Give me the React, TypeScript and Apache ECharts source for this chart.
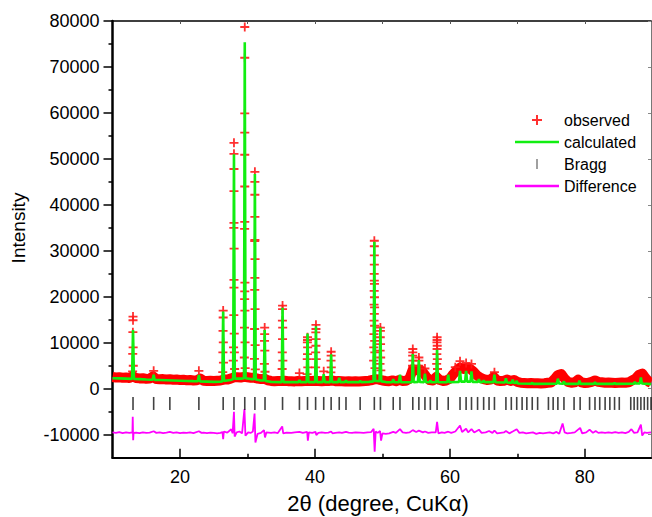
import { useEffect, useRef } from 'react';
import * as echarts from 'echarts';

// ---- data ----
const xTicks = [20, 40, 60, 80];
const xMinorTicks = [30, 50, 70];
const xTopTicks = [20, 30, 40, 50, 60, 70, 80];
const yTicks = [-10000, 0, 10000, 20000, 30000, 40000, 50000, 60000, 70000, 80000];
const yMinorTicks = [-5000, 5000, 15000, 25000, 35000, 45000, 55000, 65000, 75000];

// observed intensity between peaks (dense red band)
const observedBackground: number[][] = [
  [10, 2550], [10.5, 2450], [11, 2500], [11.5, 2400], [12, 2450], [12.5, 2350], [13, 2700], [13.5, 2350],
  [14, 2250], [14.5, 2300], [15, 2150], [15.5, 2200], [16, 2700], [16.5, 2100], [17, 2050], [17.5, 2100],
  [18, 2000], [18.5, 2050], [19, 1950], [19.5, 2000], [20, 1900], [20.5, 1950], [21, 1850], [21.5, 1900],
  [22, 1800], [22.5, 1850], [23, 2200], [23.5, 1750], [24, 1700], [24.5, 1750], [25, 1700], [25.5, 1750],
  [26, 1800], [26.5, 2000], [27, 2000], [27.5, 2200], [28, 2500], [28.5, 2500], [29, 2450], [29.5, 2600],
  [30, 2500], [30.5, 2400], [31, 2400], [31.5, 2200], [32, 2100], [32.5, 2200], [33, 1850], [33.5, 1700],
  [34, 1650], [34.5, 1700], [35, 1700], [35.5, 1750], [36, 1650], [36.5, 1650], [37, 1600], [37.5, 1700],
  [38, 1650], [38.5, 1700], [39, 1750], [39.5, 1700], [40, 1750], [40.5, 1700], [41, 1650], [41.5, 1700],
  [42, 1700], [42.5, 1800], [43, 1650], [43.5, 1700], [44, 1650], [44.5, 1600], [45, 1650], [45.5, 1600],
  [46, 1650], [46.5, 1600], [47, 1650], [47.5, 1700], [48, 1750], [48.5, 1900], [49, 2100], [49.5, 2000],
  [50, 1800], [50.5, 1700], [51, 1650], [51.5, 1800], [52, 1650], [52.5, 1900], [53, 1700], [53.5, 1750],
  [54, 2200], [54.5, 4200], [55, 4000], [55.5, 4200], [56, 3600], [56.5, 2600], [57, 1900], [57.5, 1800],
  [58, 2600], [58.5, 1900], [59, 1700], [59.5, 1800], [60, 2200], [60.5, 3200], [61, 4000], [61.5, 4600],
  [62, 4300], [62.5, 4500], [63, 4300], [63.5, 3700], [64, 2900], [64.5, 2400], [65, 2100], [65.5, 1900],
  [66, 2000], [66.5, 2600], [67, 1800], [67.5, 1700], [68, 1750], [68.5, 2000], [69, 1700], [69.5, 1900],
  [70, 1500], [70.5, 1300], [71, 1250], [71.5, 1200], [72, 1250], [72.5, 1200], [73, 1200], [73.5, 1150],
  [74, 1200], [74.5, 1300], [75, 1350], [75.5, 2100], [76, 3000], [76.5, 3200], [77, 2200], [77.5, 1500],
  [78, 1300], [78.5, 1400], [79, 2000], [79.5, 1400], [80, 1250], [80.5, 1300], [81, 1500], [81.5, 1800],
  [82, 1500], [82.5, 1400], [83, 1300], [83.5, 1350], [84, 1300], [84.5, 1250], [85, 1300], [85.5, 1350],
  [86, 1300], [86.5, 1400], [87, 1800], [87.5, 2200], [88, 3000], [88.5, 3300], [89, 2300], [89.5, 1500],
  [89.8, 1300],
];

// observed points on the peaks (red crosses)
const observedPeaks: number[][] = [
  [13.04, 15700], [13.04, 14900], [13.02, 12300], [13.06, 9000], [13.0, 7600], [13.08, 5000], [12.98, 3800],
  [16.1, 3900], [22.8, 3900],
  [26.4, 17000], [26.4, 15500], [26.38, 12600], [26.42, 10100], [26.36, 7900], [26.44, 5700], [26.34, 3600],
  [28.0, 53500], [28.0, 51100], [28.0, 47800], [28.0, 43000], [28.0, 36100], [27.98, 35000], [28.02, 30500],
  [28.0, 23700], [28.0, 22000], [27.98, 16000], [28.04, 12000], [27.94, 9000], [28.06, 7900], [27.9, 6100], [28.1, 4300],
  [29.6, 78700], [29.6, 72000], [29.6, 59900], [29.6, 55700], [29.6, 50900], [29.6, 44000], [29.6, 36300],
  [29.58, 34800], [29.62, 23100], [29.6, 21200], [29.58, 19500], [29.62, 17000], [29.56, 13300], [29.64, 10100],
  [29.54, 6800], [29.66, 4500],
  [31.1, 47200], [31.1, 45000], [31.1, 42200], [31.1, 37400], [31.1, 32400], [31.08, 32100], [31.12, 28200],
  [31.1, 24100], [31.08, 21500], [31.12, 17300], [31.06, 13000], [31.14, 9500], [31.04, 6500], [31.16, 4200],
  [32.55, 13300], [32.55, 11900], [32.53, 10400], [32.57, 8300], [32.51, 5400], [32.6, 3700],
  [35.2, 18100], [35.2, 17300], [35.18, 14800], [35.22, 13300], [35.2, 10800], [35.16, 7900], [35.24, 6100], [35.14, 4300],
  [37.7, 3400],
  [38.9, 11200], [38.9, 10600], [38.88, 10100], [38.92, 9000], [38.9, 7550], [38.86, 6450], [38.94, 4650], [38.84, 3200],
  [40.15, 13900], [40.15, 13000], [40.13, 12250], [40.17, 10800], [40.15, 9350], [40.11, 7900], [40.19, 6450], [40.1, 4650],
  [41.3, 3800],
  [42.4, 8050], [42.4, 7200], [42.38, 6100], [42.42, 4650], [42.36, 3550],
  [48.8, 32200], [48.8, 31000], [48.8, 29000], [48.8, 27000], [48.78, 25000], [48.8, 23500], [48.82, 22800],
  [48.78, 21300], [48.82, 19900], [48.76, 18300], [48.84, 17700], [48.8, 16300], [48.76, 14800], [48.84, 13700],
  [48.74, 11900], [48.86, 10400], [48.72, 9000], [48.88, 7900], [48.7, 6100], [48.9, 4500],
  [49.7, 13300], [49.7, 12600], [49.68, 11200], [49.72, 9700], [49.66, 8300], [49.74, 6800], [49.64, 5400], [49.76, 4000],
  [54.5, 8650], [54.5, 7900], [54.48, 7200], [54.52, 6100], [54.46, 5000],
  [55.4, 6800], [55.4, 6100], [55.38, 5000],
  [56.3, 4400],
  [58.1, 11200], [58.1, 10600], [58.08, 10100], [58.12, 9350], [58.1, 8650], [58.06, 7550], [58.14, 6450], [58.04, 5400], [58.16, 4300],
  [60.8, 4700], [61.5, 6000], [62.4, 5600], [63.2, 5400], [66.6, 3600],
];

// calculated profile
const calculated: number[][] = [
  [10, 2300], [11, 2250], [12, 2200], [12.9, 2150], [13.04, 12800], [13.18, 2150], [14, 2100], [15, 2000],
  [15.95, 1950], [16.1, 3050], [16.25, 1930], [17, 1900], [18, 1850], [19, 1800], [20, 1750], [21, 1700],
  [22, 1650], [22.65, 1620], [22.8, 3000], [22.95, 1600], [24, 1550], [25, 1500], [26, 1550], [26.28, 1600],
  [26.4, 16800], [26.52, 1700], [27, 1800], [27.5, 1900], [27.88, 2100], [28.0, 51000], [28.12, 2200], [29, 2200],
  [29.48, 2300], [29.6, 75400], [29.72, 2300], [30.5, 2100], [30.98, 2100], [31.1, 46700], [31.22, 2000], [32, 1800],
  [32.43, 1800], [32.55, 12800], [32.67, 1700], [33.5, 1500], [35.08, 1450], [35.2, 17600], [35.32, 1450],
  [37.55, 1450], [37.7, 1900], [37.85, 1450], [38.78, 1450], [38.9, 12000], [39.02, 1450], [40.03, 1450],
  [40.15, 13600], [40.27, 1450], [41.15, 1450], [41.3, 3200], [41.45, 1450], [42.28, 1450], [42.4, 7500],
  [42.52, 1450], [43.45, 1450], [43.6, 2400], [43.75, 1450], [44.45, 1450], [44.6, 1800], [44.75, 1450],
  [46.55, 1450], [46.7, 1700], [46.85, 1450], [48, 1500], [48.68, 1600], [48.8, 32000], [48.92, 1700],
  [49.58, 1650], [49.7, 13300], [49.82, 1600], [50.5, 1450], [51.45, 1400], [51.6, 2100], [51.75, 1400],
  [52.45, 1400], [52.6, 3050], [52.75, 1400], [54.38, 1450], [54.5, 7550], [54.62, 1450], [55.28, 1500],
  [55.4, 6250], [55.52, 1500], [56.15, 1450], [56.3, 3300], [56.45, 1400], [56.95, 1400], [57.1, 1800],
  [57.25, 1400], [57.98, 1400], [58.1, 8500], [58.22, 1400], [59.6, 1400], [59.75, 3050], [59.9, 1400],
  [61.35, 1500], [61.5, 3900], [61.65, 1550], [62.25, 1550], [62.4, 3900], [62.55, 1550], [63.05, 1550],
  [63.2, 3770], [63.35, 1500], [64.15, 1500], [64.3, 2100], [64.45, 1450], [64.85, 1450], [65.0, 1800],
  [65.15, 1450], [66.45, 1450], [66.6, 3050], [66.75, 1400], [68.15, 1350], [68.3, 2300], [68.45, 1350],
  [69.15, 1300], [69.3, 2000], [69.45, 1300], [69.75, 1250], [69.9, 1700], [70.05, 1150], [72.05, 1100],
  [72.2, 1300], [72.35, 1050], [75.85, 1100], [76.0, 2200], [76.15, 1150], [76.75, 1100], [76.9, 1600],
  [77.05, 1050], [79.05, 1050], [79.2, 1750], [79.35, 1050], [81.35, 1050], [81.5, 1400], [81.65, 1050],
  [84.25, 1050], [84.4, 1300], [84.55, 1050], [87.25, 1100], [87.4, 1500], [87.55, 1150], [88.15, 1150],
  [88.3, 2450], [88.45, 1150], [89.8, 1000],
];

// Bragg reflection positions
const braggPositions = [
  13.04, 16.1, 18.5, 22.8, 26.4, 28.0, 29.6, 31.1, 32.6, 35.2, 37.7, 38.9, 40.1, 41.3, 42.4, 43.6, 44.6,
  46.7, 48.8, 49.7, 51.6, 52.6, 54.5, 55.4, 56.3, 57.1, 58.1, 59.75, 61.5, 62.4, 63.2, 64.1, 65.0, 65.8,
  66.6, 68.3, 69.1, 69.9, 70.7, 71.4, 72.2, 73.0, 74.6, 75.3, 76.0, 76.9, 78.4, 79.3, 80.7, 81.5, 82.2,
  83.0, 83.7, 84.4, 85.1, 86.8, 87.3, 87.8, 88.3, 88.8, 89.3, 89.8,
];
const braggLevel = -3200;

// difference curve (obs - calc, offset)
const difference: number[][] = [
  [10, -9500], [10.5, -9600], [11, -9450], [11.5, -9650], [12, -9500], [12.5, -9600], [12.95, -9500],
  [13.0, -6100], [13.06, -11200], [13.12, -9600], [13.5, -9550], [14, -9650], [14.5, -9500], [15, -9600],
  [15.5, -9550], [16.1, -9250], [16.5, -9600], [17, -9500], [17.5, -9650], [18, -9550], [18.5, -9400],
  [19, -9600], [19.5, -9500], [20, -9650], [20.5, -9550], [21, -9600], [21.5, -9500], [22, -9650],
  [22.8, -9250], [23.2, -9600], [23.5, -9550], [24, -9650], [24.5, -9550], [25, -9600], [25.5, -9700],
  [26, -9600], [26.3, -9400], [26.4, -10950], [26.5, -9300], [27, -9550], [27.6, -8800], [27.8, -9700],
  [28.0, -5000], [28.1, -10400], [28.4, -9500], [28.8, -9300], [29.2, -9700], [29.55, -4400], [29.7, -10200],
  [30.1, -9500], [30.5, -9600], [30.8, -9300], [31.05, -5400], [31.18, -11700], [31.5, -9800], [32, -9600],
  [32.45, -9000], [32.6, -10600], [32.8, -9500], [33.5, -9600], [34, -9500], [34.5, -9650], [35.15, -8200],
  [35.3, -9700], [35.8, -9550], [36.5, -9600], [37, -9500], [37.7, -9400], [38.2, -9600], [38.85, -9400],
  [38.95, -11300], [39.1, -9500], [39.6, -9600], [40.1, -9400], [40.2, -10100], [40.5, -9600], [41, -9500],
  [41.5, -9600], [42, -9550], [42.4, -9300], [42.6, -9700], [43, -9600], [43.6, -9500], [44, -9600],
  [44.6, -9400], [45, -9550], [45.5, -9600], [46, -9500], [46.7, -9550], [47.2, -9600], [47.8, -9500],
  [48.3, -9450], [48.7, -8700], [48.85, -13700], [49.0, -9300], [49.3, -9600], [49.65, -9200], [49.8, -11300],
  [50.0, -9700], [50.5, -9800], [51, -9700], [51.6, -9400], [52, -9600], [52.6, -8800], [53, -9500],
  [53.5, -9600], [54, -9500], [54.5, -9000], [55, -9400], [55.4, -9100], [56, -9500], [56.3, -9300],
  [56.8, -9600], [57.3, -9500], [57.9, -9500], [58.1, -7200], [58.3, -9700], [58.8, -9500], [59.2, -9600],
  [59.75, -9350], [60.2, -9600], [60.8, -9300], [61.5, -8000], [61.8, -9400], [62.4, -8700], [62.7, -9500],
  [63.2, -8800], [63.6, -9500], [64.3, -8900], [64.7, -9600], [65.3, -9500], [65.8, -9200], [66.3, -9600],
  [66.6, -9100], [67, -9700], [67.5, -9600], [68, -9500], [68.3, -9200], [68.8, -9700], [69.3, -9300],
  [69.9, -8800], [70.3, -9600], [70.8, -9500], [71.3, -9700], [71.8, -9600], [72.3, -9500], [72.8, -9800],
  [73.3, -9600], [73.8, -9700], [74.3, -9600], [74.8, -9500], [75.3, -9700], [75.8, -9400], [76.2, -9800],
  [76.7, -7550], [77.0, -9500], [77.4, -9700], [78, -9600], [78.5, -9500], [79.3, -8500], [79.6, -9700],
  [80.2, -9500], [80.7, -8900], [81.2, -9600], [81.6, -9200], [82, -9600], [82.5, -9500], [83, -9600],
  [83.5, -9500], [84, -9600], [84.5, -9450], [85, -9600], [85.5, -9500], [86, -9650], [86.5, -9400],
  [86.9, -8800], [87.3, -9600], [87.8, -9500], [88.3, -7800], [88.5, -10200], [88.8, -9500], [89.2, -9600],
  [89.8, -9500],
];

const FONT = "'Liberation Sans', Arial, Helvetica, sans-serif";
const PLUS = 'path://M40,0H60V40H100V60H60V100H40V60H0V40H40Z';
const BAR = 'path://M0,0H1V10H0Z';
const LINE_ICON = 'path://M0,0H44V2.4H0Z';

export default function App() {
  const ref = useRef<HTMLDivElement>(null);
  useEffect(() => {
    if (!ref.current) return;
    const chart = echarts.init(ref.current, null, { renderer: 'svg' });
    const X_MIN = 10;
    const X_MAX = 89.8;
    const Y_MIN = -15000;
    const Y_MAX = 80000;
    const plain = (v: number) => String(v);
    chart.setOption({
      animation: false,
      backgroundColor: '#ffffff',
      textStyle: { fontFamily: FONT },
      grid: { left: 112.5, right: 1, top: 21, bottom: 59.3, containLabel: false },
      xAxis: [
        {
          type: 'value', min: X_MIN, max: X_MAX, position: 'bottom',
          axisLine: { show: true, onZero: false, lineStyle: { color: '#000', width: 2.2 } },
          axisTick: { show: true, inside: true, length: 9, customValues: xTicks, lineStyle: { color: '#000', width: 1.5 } },
          axisLabel: { show: true, customValues: xTicks, formatter: plain, fontSize: 18, color: '#000', margin: 10, fontFamily: FONT },
          splitLine: { show: false },
        },
        {
          type: 'value', min: X_MIN, max: X_MAX, position: 'bottom',
          axisLine: { show: false, onZero: false },
          axisTick: { show: true, inside: true, length: 4, customValues: xMinorTicks, lineStyle: { color: '#000', width: 1.5 } },
          axisLabel: { show: false },
          splitLine: { show: false },
        },
        {
          type: 'value', min: X_MIN, max: X_MAX, position: 'top',
          axisLine: { show: true, onZero: false, lineStyle: { color: '#000', width: 1.5 } },
          axisTick: { show: true, inside: true, length: 3, customValues: xTopTicks, lineStyle: { color: '#555', width: 1 } },
          axisLabel: { show: false },
          splitLine: { show: false },
        },
      ],
      yAxis: [
        {
          type: 'value', min: Y_MIN, max: Y_MAX, position: 'left',
          axisLine: { show: true, onZero: false, lineStyle: { color: '#000', width: 2.5 } },
          axisTick: { show: true, inside: false, length: 9, customValues: yTicks, lineStyle: { color: '#000', width: 1.5 } },
          axisLabel: { show: true, customValues: yTicks, formatter: plain, fontSize: 18, color: '#000', margin: 13, fontFamily: FONT },
          splitLine: { show: false },
        },
        {
          type: 'value', min: Y_MIN, max: Y_MAX, position: 'left',
          axisLine: { show: false, onZero: false },
          axisTick: { show: true, inside: false, length: 4, customValues: yMinorTicks, lineStyle: { color: '#000', width: 1.5 } },
          axisLabel: { show: false },
          splitLine: { show: false },
        },
        {
          type: 'value', min: Y_MIN, max: Y_MAX, position: 'right',
          axisLine: { show: true, onZero: false, lineStyle: { color: '#777', width: 1 } },
          axisTick: { show: true, inside: true, length: 3, customValues: yTicks, lineStyle: { color: '#888', width: 1 } },
          axisLabel: { show: false },
          splitLine: { show: false },
        },
      ],
      legend: {
        orient: 'vertical', left: 510, top: 106, itemWidth: 44, itemHeight: 10, itemGap: 4,
        selectedMode: false,
        textStyle: { fontSize: 16, color: '#000', fontFamily: FONT, lineHeight: 18 },
        data: [
          { name: 'observed', icon: PLUS },
          { name: 'calculated', icon: LINE_ICON },
          { name: 'Bragg', icon: BAR },
          { name: 'Difference', icon: LINE_ICON },
        ],
      },
      graphic: [
        {
          type: 'text', x: 18, y: 228, rotation: Math.PI / 2,
          style: { text: 'Intensity', fontSize: 19, fontFamily: FONT, fill: '#000', textAlign: 'center', textVerticalAlign: 'middle', align: 'center', verticalAlign: 'middle' },
        },
        {
          type: 'text', x: 378, y: 503,
          style: { text: '2θ (degree, CuKα)', fontSize: 22, fontFamily: FONT, fill: '#000', textAlign: 'center', textVerticalAlign: 'middle', align: 'center', verticalAlign: 'middle' },
        },
      ],
      series: [
        {
          name: 'observed', type: 'scatter', xAxisIndex: 0, yAxisIndex: 0,
          data: observedPeaks, symbol: PLUS, symbolSize: 9,
          itemStyle: { color: '#ff1a1a', opacity: 0.9 }, z: 2,
        },
        {
          name: 'observed', type: 'line', xAxisIndex: 0, yAxisIndex: 0,
          data: observedBackground, symbol: 'none', showSymbol: false,
          lineStyle: { color: '#ff0000', width: 10, join: 'round' }, itemStyle: { color: '#ff0000' }, z: 1,
        },
        {
          name: 'calculated', type: 'line', xAxisIndex: 0, yAxisIndex: 0,
          data: calculated, symbol: 'none', showSymbol: false,
          lineStyle: { color: '#11ee11', width: 2.6 }, itemStyle: { color: '#11ee11' }, z: 3,
        },
        {
          name: 'Bragg', type: 'scatter', xAxisIndex: 0, yAxisIndex: 0,
          data: braggPositions.map((p) => [p, braggLevel]), symbol: 'rect', symbolSize: [1.6, 13],
          itemStyle: { color: '#111' }, z: 3,
        },
        {
          name: 'Difference', type: 'line', xAxisIndex: 0, yAxisIndex: 0,
          data: difference, symbol: 'none', showSymbol: false,
          lineStyle: { color: '#ff00ff', width: 1.8 }, itemStyle: { color: '#ff00ff' }, z: 3,
        },
      ],
    });
    return () => chart.dispose();
  }, []);
  return (
    <div
      ref={ref}
      style={{ position: 'fixed', left: 0, top: 0, width: 652, height: 517, background: '#fff' }}
    />
  );
}
